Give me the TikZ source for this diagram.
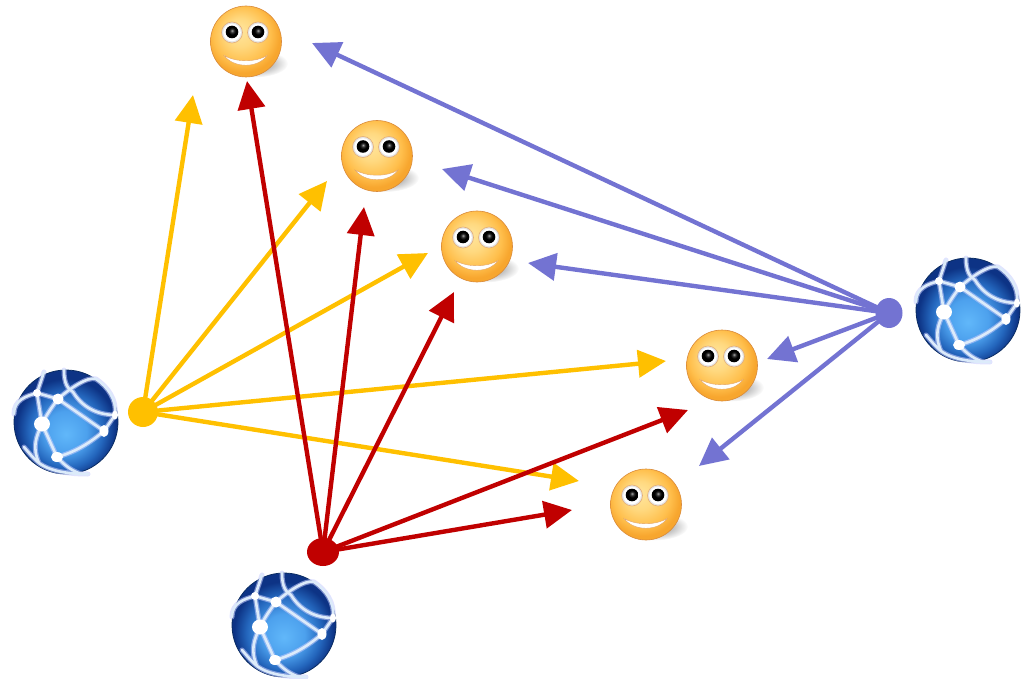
\documentclass[tikz,border=0pt]{standalone}
\usetikzlibrary{arrows.meta,shapes.geometric}
\definecolor{yel}{HTML}{FFC000}
\definecolor{redd}{HTML}{C00000}
\definecolor{blu}{HTML}{7373D2}
\definecolor{skinrim}{HTML}{D98A3A}
\definecolor{gdark}{HTML}{0F3F8C}
\definecolor{gnet}{HTML}{DCEBFA}
\pgfdeclareradialshading{smileshade}{\pgfpoint{-5bp}{8bp}}{
 rgb(0bp)=(1,0.90,0.62);
 rgb(10bp)=(1,0.85,0.50);
 rgb(20bp)=(1,0.75,0.30);
 rgb(26bp)=(0.97,0.65,0.18);
 rgb(50bp)=(0.97,0.65,0.18)}
\pgfdeclareradialshading{globeshade}{\pgfpoint{0bp}{-6bp}}{
 rgb(0bp)=(0.38,0.72,0.98);
 rgb(10bp)=(0.30,0.63,0.93);
 rgb(18bp)=(0.14,0.40,0.74);
 rgb(24bp)=(0.05,0.20,0.52);
 rgb(50bp)=(0.05,0.20,0.52)}
\pgfdeclareradialshading{shadowshade}{\pgfpoint{0bp}{0bp}}{
 rgb(0bp)=(0.66,0.66,0.66);
 rgb(14bp)=(0.76,0.76,0.76);
 rgb(25bp)=(1,1,1);
 rgb(50bp)=(1,1,1)}
\pgfdeclareradialshading{pupilshade}{\pgfpoint{0bp}{6bp}}{
 rgb(0bp)=(0.65,0.65,0.65);
 rgb(7bp)=(0.2,0.2,0.2);
 rgb(14bp)=(0,0,0);
 rgb(50bp)=(0,0,0)}
\newcommand{\netpaths}{
 (-24,2) .. controls (-19,-8) and (-14,-15) .. (-8,-23)
 (-8,-23) -- (-29,-29) (-29,-29) -- (-24,2) (-24,2) -- (-9,35)
 (-9,35) .. controls (10,30) and (25,20) .. (38,9)
 (38,9) -- (-8,-23) (38,9) -- (49,-7)
 (-8,-23) .. controls (3,-33) and (22,-46) .. (30,-43) .. controls (42,-35) and (51,-22) .. (49,-7)
 (-2,-52) .. controls (-2,-38) and (2,-33) .. (7,-30) .. controls (18,-12) and (35,-7) .. (49,-7)
 (-29,-29) .. controls (-26,-38) and (-24,-44) .. (-22,-50)
 (-29,-29) .. controls (-40,-26) and (-52,-22) .. (-52,-8)
 (-24,2) .. controls (-30,15) and (-34,25) .. (-27,41) .. controls (-15,50) and (5,52) .. (22,52)
 (-9,35) .. controls (0,45) and (8,50) .. (16,52)
 (-42,25) .. controls (-36,32) and (-32,37) .. (-27,41)
}
\tikzset{
 x=1pt,y=-1pt,
 conn/.style={line width=4.4pt,-{Triangle[length=28pt,width=27pt]}},
 hubdot/.style={draw=none},
 netdot/.style={fill=white,draw=none},
 pics/smiley/.style={code={
   \shade[shading=shadowshade] (8,22) ellipse (34 and 14);
   \shade[shading=smileshade,draw=skinrim,line width=.6pt] (0,0) circle (35.5);
   \fill[black!10,draw=skinrim!70,line width=.6pt] (-14,-9) circle (10.5);
   \fill[black!10,draw=skinrim!70,line width=.6pt] (12,-9) circle (10.5);
   \fill[white] (-14,-9) circle (8.8);
   \fill[white] (12,-9) circle (8.8);
   \shade[shading=pupilshade] (-14,-9.5) circle (6.3);
   \shade[shading=pupilshade] (12,-9.5) circle (6.3);
   \fill[white,draw=skinrim!80,line width=.4pt] (-22,14) .. controls (-10,21) and (10,21) .. (21,14) .. controls (12,27) and (-12,27) .. (-22,14) -- cycle;
 }},
 pics/globe/.style={code={
   \shade[shading=globeshade,draw=gdark!70!black,line width=.8pt] (0,0) circle (52);
   \draw[gnet!60!blue!45,opacity=.55,line width=5pt,line cap=round] \netpaths;
   \draw[gnet,line width=2.6pt,line cap=round] \netpaths;
   \fill[netdot] (-24,2) ellipse (8 and 7.5);
   \fill[netdot] (-8,-23) ellipse (5.5 and 5.5);
   \fill[netdot] (-29,-29) ellipse (4 and 4);
   \fill[netdot] (38,9) ellipse (4.5 and 6);
   \fill[netdot] (-9,35) ellipse (6 and 5);
   \fill[netdot] (49,-7) ellipse (3 and 4.5);
 }}
}
\begin{document}
\begin{tikzpicture}
\useasboundingbox (0,0) rectangle (1028,679);
\pic at (246,41.5) {smiley};
\pic at (377,156) {smiley};
\pic at (477,246.5) {smiley};
\pic at (722,365.5) {smiley};
\pic at (646,504.5) {smiley};
\pic at (66,422) {globe};
\pic at (284,625) {globe};
\pic at (968,310) {globe};
\coordinate (y1) at (193,95); \coordinate (y2) at (327,181); \coordinate (y3) at (428,253);
\coordinate (y4) at (666,361); \coordinate (y5) at (579,481);
\coordinate (r1) at (247,81); \coordinate (r2) at (364,207); \coordinate (r3) at (454,292);
\coordinate (r4) at (688,410); \coordinate (r5) at (572,510);
\coordinate (b1) at (312,43); \coordinate (b2) at (442,169); \coordinate (b3) at (528,263);
\coordinate (b4) at (767,359); \coordinate (b5) at (699,466);
\node[hubdot,ellipse,fill=yel,inner sep=0pt,minimum width=30pt,minimum height=30pt] (yh) at (143,412) {};
\node[hubdot,ellipse,fill=blu,inner sep=0pt,minimum width=27pt,minimum height=30pt] (bh) at (889,313) {};
\foreach \t in {y1,y2,y3,y4,y5} \draw[conn,yel] (yh.center) -- (\t);
\foreach \t in {b1,b2,b3,b4,b5} \draw[conn,blu] (bh.center) -- (\t);
\node[hubdot,ellipse,fill=redd,inner sep=0pt,minimum width=32pt,minimum height=28pt] (rh) at (323,552) {};
\foreach \t in {r1,r2,r3,r4,r5} \draw[conn,redd] (rh.center) -- (\t);
\end{tikzpicture}
\end{document}
